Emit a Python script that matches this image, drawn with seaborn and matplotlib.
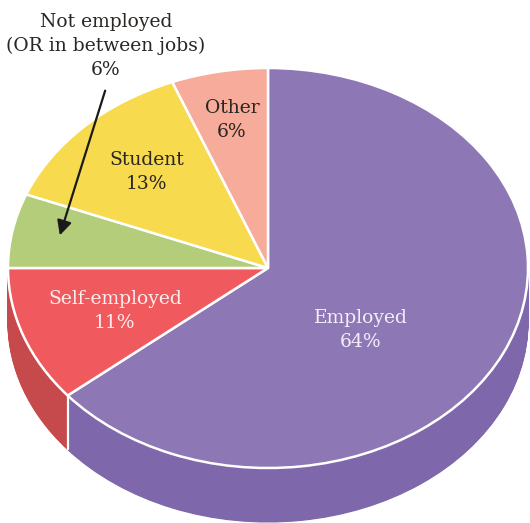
import numpy as np
import matplotlib.pyplot as plt
import seaborn as sns

# Data
categories = ["Employed", "Self-employed", "Not employed", "Student", "Other"]
shares = [64, 11, 6, 13, 6]
top_colors = ["#8D78B5", "#F05A5E", "#B3CD7A", "#F8DA4E", "#F6AB9B"]
side_colors = ["#7E67AA", "#C64A4C", "#9AB566", "#DDBF3A", "#DB9585"]

sns.set_theme(style="white")
plt.rcParams['font.family'] = ['DejaVu Serif']

W, H = 530, 523
fig = plt.figure(figsize=(W / 100, H / 100), dpi=100)
ax = fig.add_axes([0, 0, 1, 1])

# ellipse geometry in pixels
cx, cy, rx, ry, depth = 268, 268, 260, 200, 54

# side walls: stacked darker pies shifted downward
n_layers = 60
for d in np.linspace(depth / ry, 0, n_layers):
    ax.pie(shares, colors=side_colors, startangle=90, counterclock=False,
           center=(0, -d), radius=1, frame=True,
           wedgeprops=dict(linewidth=0.8, edgecolor=None))
    for w, c in zip(ax.patches[-len(shares):], side_colors):
        w.set_edgecolor(c)

# white seam on the side wall at the Employed / Self-employed boundary
ang = np.deg2rad(90 - 360 * shares[0] / sum(shares))
bx, by = np.cos(ang), np.sin(ang)
ax.plot([bx, bx], [by, by - depth / ry], color="white", lw=1.6, zorder=5)

# top face
wedges, _ = ax.pie(shares, colors=top_colors, startangle=90, counterclock=False,
                   center=(0, 0), radius=1, frame=True,
                   wedgeprops=dict(linewidth=1.8, edgecolor="white"))
for w in wedges:
    w.set_zorder(10)

ax.set_aspect("auto")
ax.set_xlim(-cx / rx, (W - cx) / rx)
ax.set_ylim(-(H - cy) / ry, cy / ry)
ax.axis("off")


def ptxt(x, y, s, color, size=13.5):
    fig.text(x / W, 1 - y / H, s, ha="center", va="center", color=color,
             fontsize=size, linespacing=1.45, zorder=20)


ptxt(361, 330, "Employed\n64%", "#F2EEF7")
ptxt(115, 311, "Self-employed\n11%", "#FCEDEE")
ptxt(147, 172, "Student\n13%", "#2A2623")
ptxt(232, 120, "Other\n6%", "#2A2623")
ptxt(106, 46, "Not employed\n(OR in between jobs)\n6%", "#2A2623")

ax.annotate("", xy=(59 / W, 1 - 238 / H), xytext=(106 / W, 1 - 88 / H),
            xycoords="figure fraction", textcoords="figure fraction",
            arrowprops=dict(arrowstyle="-|>", color="#1a1a1a", lw=1.6,
                            mutation_scale=22), zorder=30)

fig.savefig("out.png", dpi=100)
